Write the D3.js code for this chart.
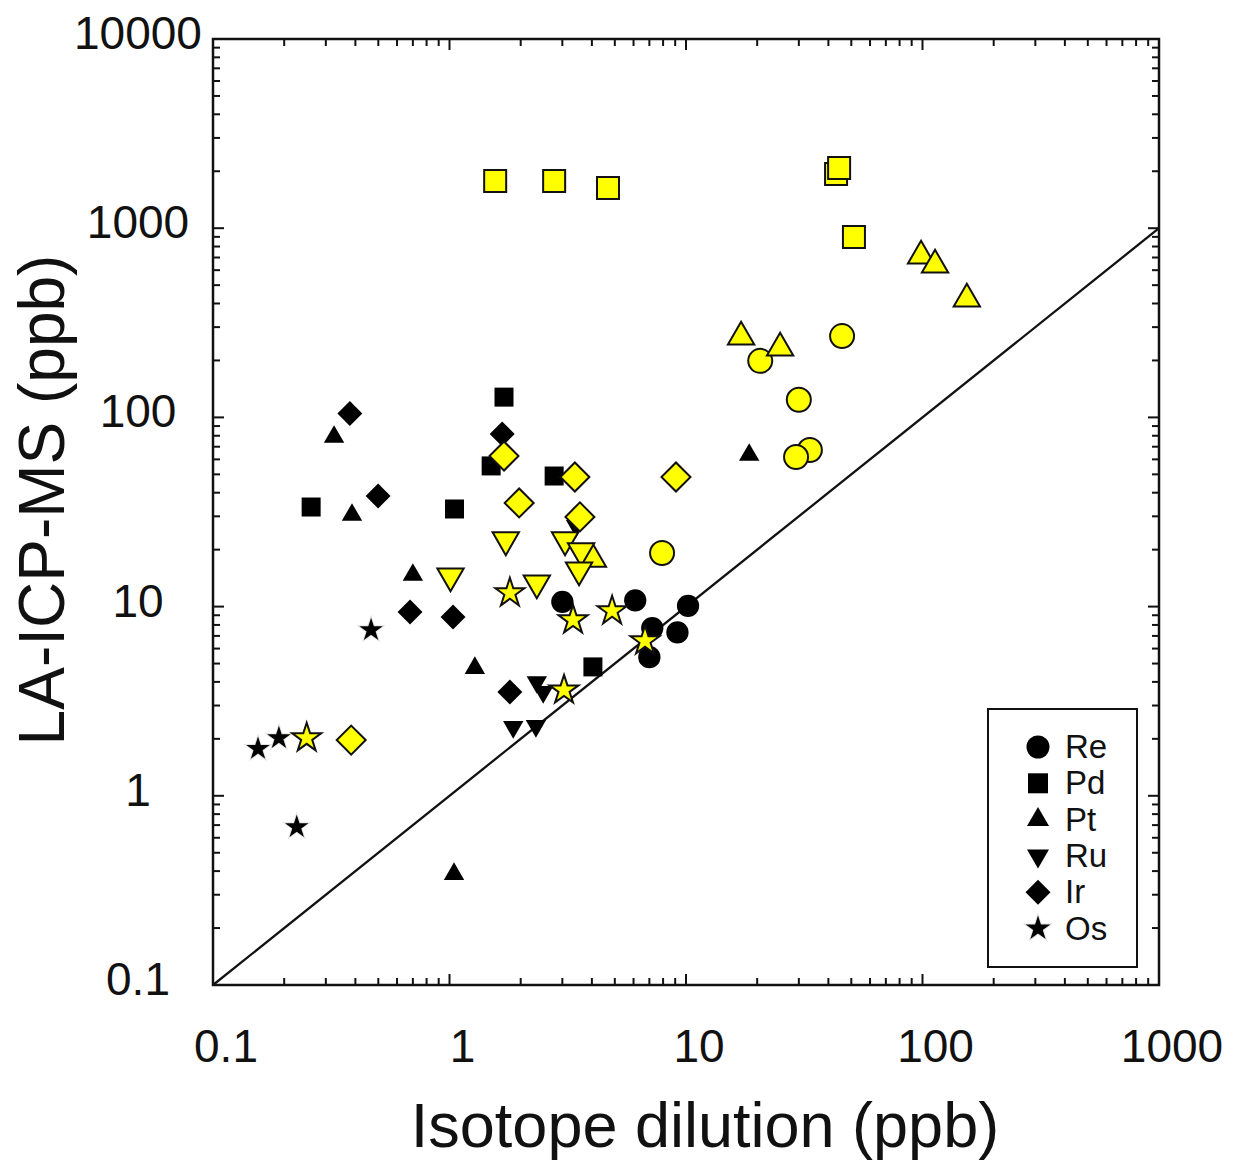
<!DOCTYPE html>
<html>
<head>
<meta charset="utf-8">
<script src="https://cdn.jsdelivr.net/npm/d3@7"></script>
<style>
  body { margin: 0; background: #fff; }
  text { font-family: "Liberation Sans", Arial, sans-serif; fill: #111; }
</style>
</head>
<body>
<div id="chart"></div>
<script>
// element names, in legend order
const elements = ["Re", "Pd", "Pt", "Ru", "Ir", "Os"];

// black symbols: isotope dilution (x) vs LA-ICP-MS (y), ppb
const reIdBlack = [3.0, 6.1, 7.2, 7.0, 10.2, 9.2];
const reLaBlack = [10.6, 10.8, 7.7, 5.4, 10.1, 7.3];
const pdIdBlack = [0.26, 1.05, 1.70, 1.50, 2.77, 4.04];
const pdLaBlack = [33.6, 32.8, 128, 55.4, 49.0, 4.8];
const ptIdBlack = [0.325, 0.387, 0.70, 1.28, 1.045, 18.5];
const ptLaBlack = [78.8, 30.5, 14.7, 4.73, 0.386, 63.3];
const ruIdBlack = [2.34, 2.49, 1.86, 2.32, 3.43];
const ruLaBlack = [3.99, 3.54, 2.31, 2.34, 26.7];
const irIdBlack = [0.379, 0.499, 0.681, 1.035, 1.67, 1.80];
const irLaBlack = [105, 38.4, 9.36, 8.81, 81.7, 3.54];
const osIdBlack = [0.155, 0.190, 0.466, 0.226];
const osLaBlack = [1.77, 2.02, 7.52, 0.684];

// yellow symbols
const reIdYellow = [45.7, 20.6, 30.0, 33.4, 29.2, 7.92];
const reLaYellow = [269, 199, 124, 67.3, 61.8, 19.2];
const pdIdYellow = [1.56, 2.77, 4.68, 43.1, 44.4, 51.3];
const pdLaYellow = [1776, 1776, 1631, 1935, 2081, 898];
const ptIdYellow = [17.1, 25.0, 98.6, 113, 154, 4.04];
const ptLaYellow = [266, 233, 713, 639, 423, 17.8];
const ruIdYellow = [1.73, 3.08, 3.60, 3.53, 1.01, 2.34];
const ruLaYellow = [22.5, 22.5, 19.7, 15.6, 14.5, 13.3];
const irIdYellow = [1.70, 3.39, 9.07, 1.97, 3.56, 0.384];
const irLaYellow = [62.5, 48.4, 48.4, 35.3, 29.8, 1.97];
const osIdYellow = [1.80, 3.33, 4.87, 6.71, 3.05, 0.249];
const osLaYellow = [11.8, 8.49, 9.48, 6.58, 3.62, 2.02];

const xTickLabels = ["0.1", "1", "10", "100", "1000"];
const yTickLabels = ["0.1", "1", "10", "100", "1000", "10000"];

const width = 1238, height = 1160;
const plot = {left: 213, right: 1159, top: 39, bottom: 985};

const svg = d3.select("#chart").append("svg")
    .attr("width", width)
    .attr("height", height);

const x = d3.scaleLog().domain([0.1, 1000]).range([plot.left, plot.right]);
const y = d3.scaleLog().domain([0.1, 10000]).range([plot.bottom, plot.top]);

// shape of each element: symbol type, rotation, sizes (black, yellow, legend)
const shapes = {
    Re: {type: d3.symbolCircle, rot: 0, black: 390, yellow: 452, legend: 415},
    Pd: {type: d3.symbolSquare, rot: 0, black: 361, yellow: 484, legend: 400},
    Pt: {type: d3.symbolTriangle, rot: 0, black: 180, yellow: 300, legend: 210},
    Ru: {type: d3.symbolTriangle, rot: 180, black: 180, yellow: 300, legend: 210},
    Ir: {type: d3.symbolSquare, rot: 45, black: 312, yellow: 420, legend: 312},
    Os: {type: d3.symbolStar, rot: 0, black: 170, yellow: 260, legend: 190}
};

const blackSets = {
    Re: [reIdBlack, reLaBlack], Pd: [pdIdBlack, pdLaBlack], Pt: [ptIdBlack, ptLaBlack],
    Ru: [ruIdBlack, ruLaBlack], Ir: [irIdBlack, irLaBlack], Os: [osIdBlack, osLaBlack]
};
const yellowSets = {
    Re: [reIdYellow, reLaYellow], Pd: [pdIdYellow, pdLaYellow], Pt: [ptIdYellow, ptLaYellow],
    Ru: [ruIdYellow, ruLaYellow], Ir: [irIdYellow, irLaYellow], Os: [osIdYellow, osLaYellow]
};

// ticks, inward on all four sides
const xTicks = x.ticks();
const yTicks = y.ticks();
const isMajor = v => Math.abs(Math.log10(v) - Math.round(Math.log10(v))) < 1e-6;

const tickG = svg.append("g").attr("stroke", "#111").attr("stroke-width", 2);
xTicks.forEach(v => {
    let len = isMajor(v) ? 11 : 7;
    tickG.append("line").attr("x1", x(v)).attr("x2", x(v)).attr("y1", plot.bottom).attr("y2", plot.bottom - len);
    tickG.append("line").attr("x1", x(v)).attr("x2", x(v)).attr("y1", plot.top).attr("y2", plot.top + len);
});
yTicks.forEach(v => {
    let len = isMajor(v) ? 11 : 7;
    tickG.append("line").attr("y1", y(v)).attr("y2", y(v)).attr("x1", plot.left).attr("x2", plot.left + len);
    tickG.append("line").attr("y1", y(v)).attr("y2", y(v)).attr("x1", plot.right).attr("x2", plot.right - len);
});

// 1:1 line
svg.append("line")
    .attr("x1", x(0.1)).attr("y1", y(0.1))
    .attr("x2", x(1000)).attr("y2", y(1000))
    .attr("stroke", "#111")
    .attr("stroke-width", 2.3);

// frame
svg.append("rect")
    .attr("x", plot.left).attr("y", plot.top)
    .attr("width", plot.right - plot.left).attr("height", plot.bottom - plot.top)
    .attr("fill", "none")
    .attr("stroke", "#111")
    .attr("stroke-width", 2.5);

// tick labels
svg.append("g").selectAll("text")
    .data(xTickLabels)
    .enter().append("text")
    .attr("x", d => x(+d) + 13)
    .attr("y", 1062)
    .attr("text-anchor", "middle")
    .style("font-size", "46px")
    .text(d => d);

svg.append("g").selectAll("text")
    .data(yTickLabels)
    .enter().append("text")
    .attr("x", 138)
    .attr("y", d => y(+d) + 10)
    .attr("text-anchor", "middle")
    .style("font-size", "46px")
    .text(d => d);

// axis titles
svg.append("text")
    .attr("x", 705)
    .attr("y", 1147)
    .attr("text-anchor", "middle")
    .style("font-size", "63px")
    .text("Isotope dilution (ppb)");

svg.append("text")
    .attr("transform", "translate(64,500) rotate(-90)")
    .attr("text-anchor", "middle")
    .style("font-size", "64px")
    .text("LA-ICP-MS (ppb)");

function symbolPath(el, size) {
    return d3.symbol().type(shapes[el].type).size(size)();
}

// black points first, then yellow on top
const pts = svg.append("g");
elements.forEach(el => {
    let xs = blackSets[el][0], ys = blackSets[el][1];
    pts.append("g").selectAll("path")
        .data(xs.map((d, i) => [d, ys[i]]))
        .enter().append("path")
        .attr("d", symbolPath(el, shapes[el].black))
        .attr("transform", d => "translate(" + x(d[0]) + "," + y(d[1]) + ") rotate(" + shapes[el].rot + ")")
        .attr("fill", "#000")
        .attr("stroke", el === "Os" ? "#e2e2e2" : "none")
        .attr("stroke-width", el === "Os" ? 2 : 0)
        .attr("paint-order", "stroke");
});
elements.forEach(el => {
    let xs = yellowSets[el][0], ys = yellowSets[el][1];
    pts.append("g").selectAll("path")
        .data(xs.map((d, i) => [d, ys[i]]))
        .enter().append("path")
        .attr("d", symbolPath(el, shapes[el].yellow))
        .attr("transform", d => "translate(" + x(d[0]) + "," + y(d[1]) + ") rotate(" + shapes[el].rot + ")")
        .attr("fill", "#ffff00")
        .attr("stroke", "#111")
        .attr("stroke-width", 2);
});

// legend
let legendBox = {x: 988, y: 709, width: 149, height: 258};
svg.append("rect")
    .attr("x", legendBox.x).attr("y", legendBox.y)
    .attr("width", legendBox.width).attr("height", legendBox.height)
    .attr("fill", "#fff")
    .attr("stroke", "#111")
    .attr("stroke-width", 2);

let legend = svg.selectAll("g.legend")
    .data(elements)
    .enter().append("g")
    .attr("class", "legend")
    .attr("transform", (d, i) => "translate(0," + (legendBox.y + 38 + i * 36.3) + ")");

legend.append("path")
    .attr("d", d => symbolPath(d, shapes[d].legend))
    .attr("transform", d => "translate(1038,0) rotate(" + shapes[d].rot + ")")
    .attr("fill", "#000")
    .attr("stroke", d => d === "Os" ? "#e2e2e2" : "none")
    .attr("stroke-width", d => d === "Os" ? 2 : 0)
    .attr("paint-order", "stroke");

legend.append("text")
    .attr("x", 1065)
    .attr("y", 11)
    .style("font-size", "33px")
    .text(d => d);
</script>
</body>
</html>
